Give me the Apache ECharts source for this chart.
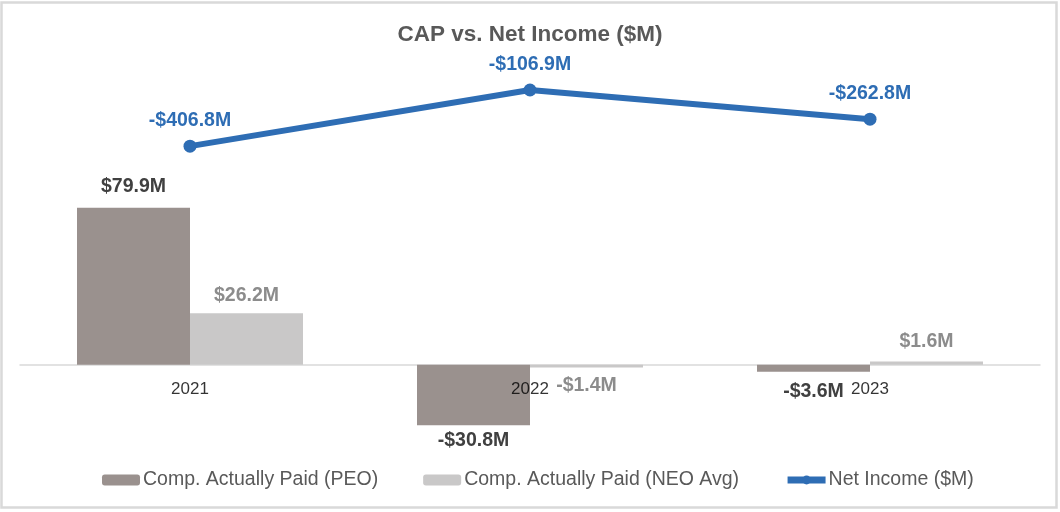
<!DOCTYPE html>
<html>
<head>
<meta charset="utf-8">
<script src="https://cdn.jsdelivr.net/npm/echarts@6/dist/echarts.min.js"></script>
<style>
html,body{margin:0;padding:0;background:#fff;}
#chart{width:1060px;height:512px;}
</style>
</head>
<body>
<div id="chart"></div>
<script>
const categories = ['2021', '2022', '2023'];
const capPEO = [79.9, -30.8, -3.6];
const capNEO = [26.2, -1.4, 1.6];
const netIncome = [-406.8, -106.9, -262.8];
const seriesNames = ['Comp. Actually Paid (PEO)', 'Comp. Actually Paid (NEO Avg)', 'Net Income ($M)'];
const titleText = 'CAP vs. Net Income ($M)';

// label offsets (style only)
const peoLabelDist = [11, 5, 10];
const neoLabelDist = [8, 8, 10];

const FONT = '"Liberation Sans", Arial, sans-serif';
const fmt = v => (v < 0 ? '-$' + Math.abs(v).toFixed(1) : '$' + v.toFixed(1)) + 'M';

function barData(arr, dists) {
  return arr.map((v, i) => ({
    value: v,
    label: { position: v < 0 ? 'bottom' : 'top', distance: dists[i] }
  }));
}

const chart = echarts.init(document.getElementById('chart'), null, { renderer: 'canvas' });
chart.setOption({
  animation: false,
  backgroundColor: '#ffffff',
  textStyle: { fontFamily: FONT },
  title: {
    text: titleText,
    left: 'center',
    top: 18,
    textStyle: { fontFamily: FONT, fontSize: 22.5, fontWeight: 'bold', color: '#595959' }
  },
  graphic: [{
    type: 'rect',
    shape: { x: 1.5, y: 2.5, width: 1055, height: 505 },
    style: { fill: 'none', stroke: '#d9d9d9', lineWidth: 2.5 },
    silent: true
  }],
  legend: {
    top: 470,
    left: 102,
    padding: 0,
    itemGap: 45,
    itemWidth: 38,
    itemHeight: 11,
    lineStyle: { width: 7 },
    textStyle: { fontFamily: FONT, fontSize: 19.5, color: '#595959', padding: [0, 0, 0, -2] },
    data: seriesNames
  },
  grid: { left: 20, right: 20, top: 70, height: 393 },
  xAxis: {
    type: 'category',
    data: categories,
    axisLine: { show: true, onZero: true, lineStyle: { color: '#d9d9d9', width: 1.5 } },
    axisTick: { show: false },
    axisLabel: { show: false },
    splitLine: { show: false }
  },
  yAxis: [
    { type: 'value', min: -50, max: 150, show: false, splitLine: { show: false } },
    { type: 'value', min: -2100, max: 0, show: false, splitLine: { show: false } }
  ],
  series: [
    {
      name: seriesNames[0],
      type: 'bar',
      yAxisIndex: 0,
      barWidth: 113,
      barGap: '0%',
      itemStyle: { color: '#9a918e' },
      label: {
        show: true,
        formatter: p => fmt(p.value),
        color: '#404040',
        fontSize: 19.5,
        fontWeight: 'bold',
        fontFamily: FONT
      },
      data: barData(capPEO, peoLabelDist)
    },
    {
      name: seriesNames[1],
      type: 'bar',
      yAxisIndex: 0,
      barWidth: 113,
      barGap: '0%',
      itemStyle: { color: '#c9c8c8' },
      label: {
        show: true,
        formatter: p => fmt(p.value),
        color: '#8c8c8c',
        fontSize: 19.5,
        fontWeight: 'bold',
        fontFamily: FONT
      },
      data: barData(capNEO, neoLabelDist)
    },
    {
      name: seriesNames[2],
      type: 'line',
      yAxisIndex: 1,
      data: netIncome,
      symbol: 'circle',
      symbolSize: 13,
      lineStyle: { color: '#2e6db4', width: 6 },
      itemStyle: { color: '#2e6db4' },
      label: {
        show: true,
        position: 'top',
        distance: 9,
        formatter: p => fmt(p.value),
        color: '#2e6db4',
        fontSize: 19.5,
        fontWeight: 'bold',
        fontFamily: FONT
      }
    },
    {
      name: 'categoryLabels',
      type: 'scatter',
      yAxisIndex: 0,
      z: 10,
      silent: true,
      symbolSize: 0,
      data: categories.map(() => 0),
      label: {
        show: true,
        position: 'bottom',
        distance: 16,
        formatter: p => categories[p.dataIndex],
        color: '#000000',
        fontSize: 17,
        fontFamily: FONT
      }
    }
  ]
});
</script>
</body>
</html>
